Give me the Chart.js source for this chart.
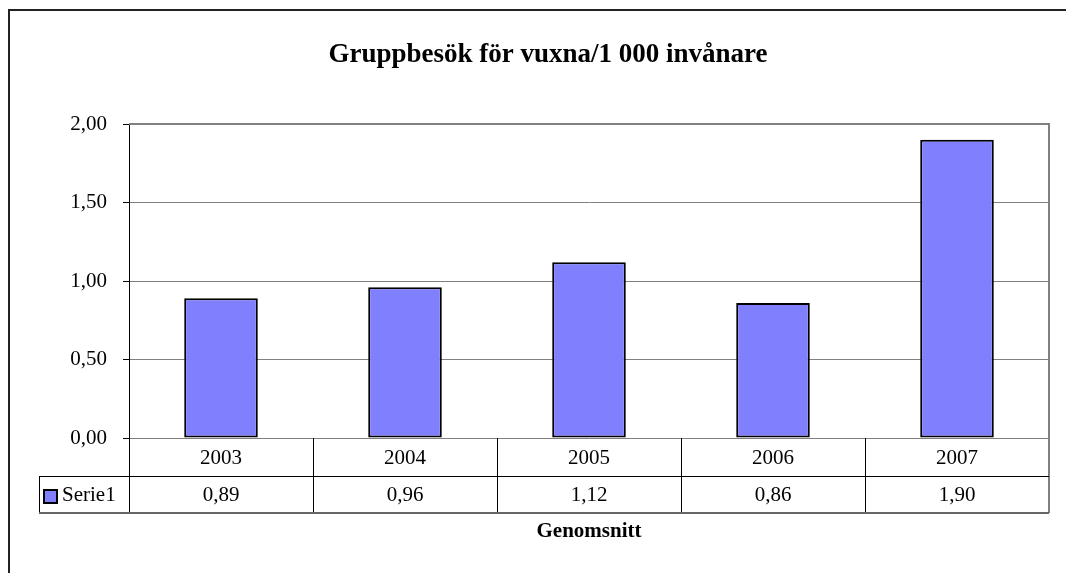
<!DOCTYPE html>
<html>
<head>
<meta charset="utf-8">
<script src="https://cdn.jsdelivr.net/npm/chart.js@4.4.1/dist/chart.umd.min.js"></script>
<style>
  html, body { margin: 0; padding: 0; background: #fff; }
  #wrap { width: 1066px; height: 573px; position: relative; }
</style>
</head>
<body>
<div id="wrap"><canvas id="chart"></canvas></div>
<script>
const years = ["2003", "2004", "2005", "2006", "2007"];
const serie1 = [0.89, 0.96, 1.12, 0.86, 1.90];
const yTicks = [0, 0.5, 1, 1.5, 2];
const seriesName = "Serie1";
const chartTitle = "Gruppbesök för vuxna/1 000 invånare";
const xTitle = "Genomsnitt";

const SERIF = "'Liberation Serif', 'Times New Roman', serif";
const BAR_FILL = "#8080ff";

// swedish decimal comma
const fmt = (v) => v.toFixed(2).replace(".", ",");

// outer frame, title, plot border and the data table under the axis
const tablePlugin = {
  id: "excelTable",
  afterDraw(chart) {
    const ctx = chart.ctx;
    const area = chart.chartArea;
    const x = chart.scales.x;
    const row1 = area.bottom + 38;
    const row2 = row1 + 37;
    const tableLeft = 39;
    const catW = (area.right - area.left) / years.length;

    ctx.save();

    // outer frame (runs past the canvas on right and bottom)
    ctx.strokeStyle = "#222";
    ctx.lineWidth = 2;
    ctx.beginPath();
    ctx.moveTo(9, 600);
    ctx.lineTo(9, 10);
    ctx.lineTo(1100, 10);
    ctx.stroke();

    // title
    ctx.fillStyle = "#000";
    ctx.font = "bold 27px " + SERIF;
    ctx.textAlign = "center";
    ctx.textBaseline = "middle";
    ctx.fillText(chartTitle, 548, 55);

    // plot top + right border
    ctx.strokeStyle = "#808080";
    ctx.lineWidth = 2;
    ctx.beginPath();
    ctx.moveTo(area.left, area.top);
    ctx.lineTo(area.right, area.top);
    ctx.lineTo(area.right, row2);
    ctx.stroke();

    // table lines
    ctx.strokeStyle = "#000";
    ctx.lineWidth = 1;
    ctx.beginPath();
    ctx.moveTo(tableLeft, row1 + 0.5);
    ctx.lineTo(area.right, row1 + 0.5);
    ctx.moveTo(tableLeft + 0.5, row1);
    ctx.lineTo(tableLeft + 0.5, row2);
    for (let i = 0; i < years.length; i++) {
      const bx = Math.round(area.left + i * catW) + 0.5;
      ctx.moveTo(bx, area.bottom);
      ctx.lineTo(bx, row2);
    }
    ctx.stroke();
    ctx.strokeStyle = "#666";
    ctx.lineWidth = 2;
    ctx.beginPath();
    ctx.moveTo(tableLeft, row2);
    ctx.lineTo(area.right, row2);
    ctx.stroke();

    // labels + values
    ctx.fillStyle = "#000";
    ctx.font = "21px " + SERIF;
    ctx.textAlign = "center";
    years.forEach((yr, i) => {
      const cx = x.getPixelForValue(i);
      ctx.fillText(yr, cx, (area.bottom + row1) / 2 + 1);
      ctx.fillText(fmt(serie1[i]), cx, (row1 + row2) / 2 + 1);
    });

    // legend key
    ctx.fillStyle = BAR_FILL;
    ctx.fillRect(44, row1 + 14, 13, 13);
    ctx.strokeStyle = "#000";
    ctx.lineWidth = 2;
    ctx.strokeRect(44, row1 + 14, 13, 13);
    ctx.fillStyle = "#000";
    ctx.textAlign = "left";
    ctx.fillText(seriesName, 62, (row1 + row2) / 2 + 1);

    // x axis title
    ctx.font = "bold 21px " + SERIF;
    ctx.textAlign = "center";
    ctx.fillText(xTitle, (area.left + area.right) / 2, 532);

    ctx.restore();
  }
};

new Chart(document.getElementById("chart"), {
  type: "bar",
  data: {
    labels: years,
    datasets: [{
      label: seriesName,
      data: serie1,
      backgroundColor: BAR_FILL,
      borderColor: "#000",
      borderWidth: 2,
      borderSkipped: false,
      categoryPercentage: 1,
      barPercentage: 0.4
    }]
  },
  options: {
    responsive: true,
    maintainAspectRatio: false,
    animation: false,
    layout: { padding: { left: 0, right: 17, top: 124, bottom: 135 } },
    plugins: {
      legend: { display: false },
      title: { display: false },
      tooltip: { enabled: false }
    },
    scales: {
      x: {
        display: false,
        offset: true,
        grid: { display: false }
      },
      y: {
        min: 0,
        max: 2,
        afterFit(scale) { scale.width = 129; },
        afterBuildTicks(scale) { scale.ticks = yTicks.map((v) => ({ value: v })); },
        ticks: {
          padding: 16,
          color: "#000",
          font: { family: SERIF, size: 21 },
          callback: (v) => fmt(v)
        },
        grid: {
          color: "#808080",
          lineWidth: 1,
          tickColor: "#000",
          tickLength: 6,
          drawTicks: true
        },
        border: { display: true, color: "#000", width: 1 }
      }
    }
  },
  plugins: [tablePlugin]
});
</script>
</body>
</html>
